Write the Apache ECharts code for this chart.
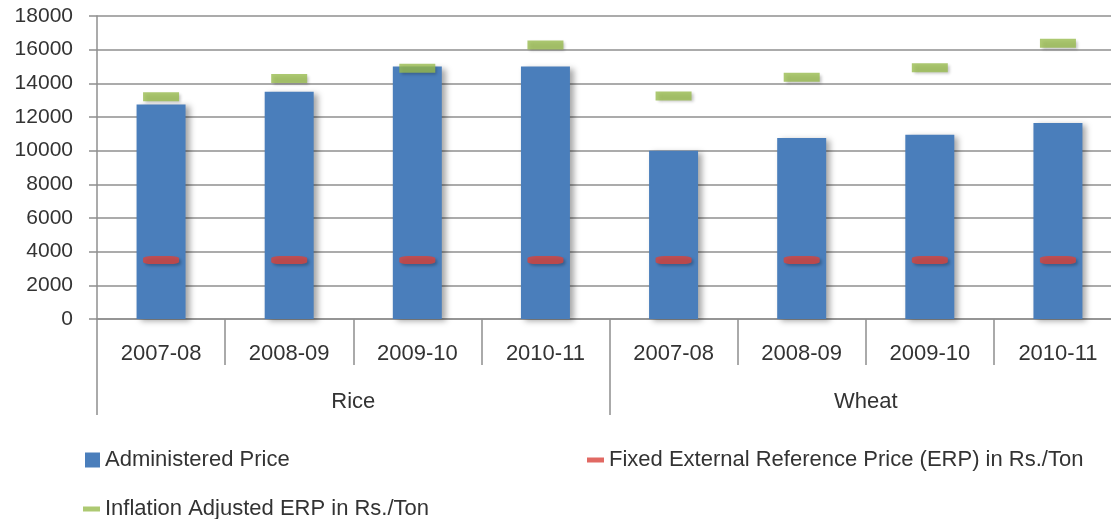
<!DOCTYPE html>
<html>
<head>
<meta charset="utf-8">
<script src="https://cdn.jsdelivr.net/npm/echarts@6/dist/echarts.min.js"></script>
<style>
html,body{margin:0;padding:0;background:#fff;}
#chart{width:1111px;height:519px;}
</style>
</head>
<body>
<div id="chart"></div>
<script>
var years = ['2007-08','2008-09','2009-10','2010-11','2007-08','2008-09','2009-10','2010-11'];
var crops = ['Rice','Wheat'];
var administeredPrice = [12750, 13500, 15000, 15000, 10000, 10750, 10950, 11650];
var fixedERP = [3500, 3500, 3500, 3500, 3500, 3500, 3500, 3500];
var inflationERP = [13200, 14280, 14900, 16280, 13250, 14360, 14930, 16380];
var yTicks = {min: 0, max: 18000, interval: 2000};

var FONT = '"Liberation Sans", Arial, sans-serif';
var chart = echarts.init(document.getElementById('chart'));
var gridCol = '#8f8f8f';
chart.setOption({
  animation: false,
  textStyle: {fontFamily: FONT},
  grid: {left: 97, top: 16, width: 1025, height: 303, outerBoundsMode: 'none', containLabel: false},
  legend: [
    {left: 80, top: 444, data: ['Administered Price'], icon: 'rect', itemWidth: 15, itemHeight: 15,
     textStyle: {fontSize: 22, color: '#333', fontFamily: FONT}},
    {left: 582, top: 444, data: ['Fixed External Reference Price (ERP) in Rs./Ton'], icon: 'rect', itemWidth: 17, itemHeight: 5,
     textStyle: {fontSize: 22, color: '#333', fontFamily: FONT}},
    {left: 78, top: 493, data: ['Inflation Adjusted ERP in Rs./Ton'], icon: 'rect', itemWidth: 17, itemHeight: 5,
     textStyle: {fontSize: 22, color: '#333', fontFamily: FONT}}
  ],
  xAxis: [
    {type: 'category', data: years, position: 'bottom',
     axisLine: {lineStyle: {color: gridCol, width: 1.5}},
     axisTick: {show: true, length: 46, interval: 0, lineStyle: {color: gridCol, width: 1.5}},
     axisLabel: {interval: 0, fontSize: 22, color: '#333', margin: 24, fontFamily: FONT}},
    {type: 'category', data: crops, position: 'bottom', offset: 46,
     axisLine: {show: false},
     axisTick: {show: true, length: 50, interval: 0, lineStyle: {color: gridCol, width: 1.5}},
     axisLabel: {interval: 0, fontSize: 22, color: '#333', margin: 26, fontFamily: FONT}}
  ],
  yAxis: {
    type: 'value', min: yTicks.min, max: yTicks.max, interval: yTicks.interval,
    axisLine: {show: true, lineStyle: {color: gridCol, width: 1.5}},
    axisTick: {show: true, length: 8, lineStyle: {color: gridCol, width: 1.5}},
    axisLabel: {fontSize: 21, color: '#333', margin: 24, fontFamily: FONT,
                formatter: function (v) { return String(v); }},
    splitLine: {lineStyle: {color: gridCol, width: 1.5}}
  },
  series: [
    {name: 'Administered Price', type: 'bar', data: administeredPrice, barWidth: 49,
     itemStyle: {color: '#4A7EBB', shadowColor: 'rgba(0,0,0,0.35)', shadowBlur: 6, shadowOffsetX: 4, shadowOffsetY: 2}},
    {name: 'Fixed External Reference Price (ERP) in Rs./Ton', type: 'scatter', data: fixedERP,
     symbol: 'roundRect', symbolSize: [36, 8], z: 5,
     itemStyle: {color: '#D9433C', shadowColor: 'rgba(0,0,0,0.3)', shadowBlur: 3, shadowOffsetX: 2, shadowOffsetY: 2}},
    {name: 'Inflation Adjusted ERP in Rs./Ton', type: 'scatter', data: inflationERP,
     symbol: 'rect', symbolSize: [36, 9], z: 5,
     itemStyle: {color: '#98BC4F', shadowColor: 'rgba(0,0,0,0.3)', shadowBlur: 3, shadowOffsetX: 2, shadowOffsetY: 2}}
  ]
});
</script>
</body>
</html>
